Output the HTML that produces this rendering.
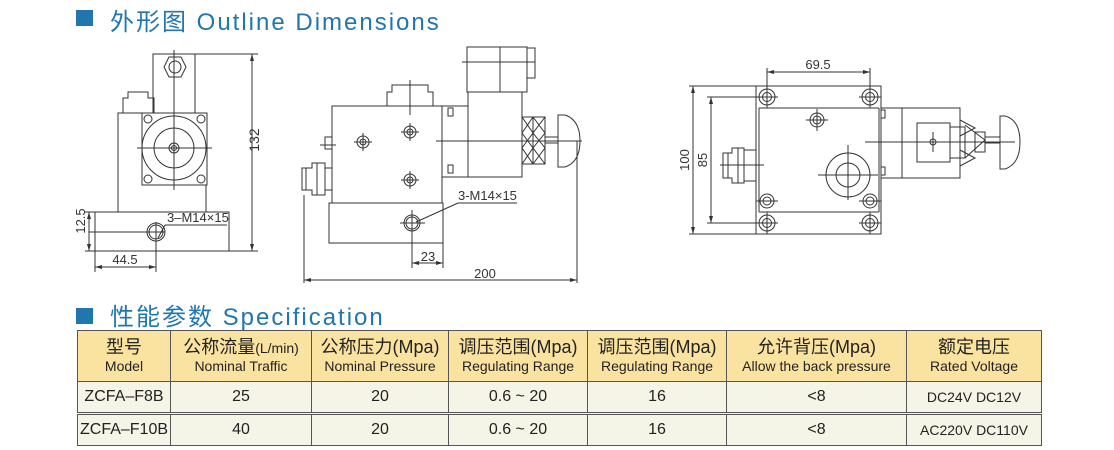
<!DOCTYPE html>
<html><head><meta charset="utf-8"><style>
body{margin:0;background:#fff;width:1114px;height:450px;overflow:hidden;position:relative;font-family:"Liberation Sans","Noto Sans CJK SC",sans-serif}
.h{position:absolute;color:#2176ae;font-size:24px;letter-spacing:2px;white-space:nowrap}
.sq{position:absolute;width:17px;height:16px;background:#2176ae}
table{position:absolute;left:77px;top:330px;border-collapse:collapse;font-size:14px;color:#222}
td{border:1px solid #555;text-align:center;padding:0;line-height:18px}
tr.hd td{background:#fae3a0;height:50px}
tr.r td{background:#f4f5e6;height:30px;font-size:16px}
.cn{font-size:18px}
</style></head><body>
<div class="sq" style="left:76px;top:10px"></div>
<div class="h" style="left:110px;top:2px">外形图 Outline Dimensions</div>
<div class="sq" style="left:76px;top:308px"></div>
<div class="h" style="left:110px;top:297px">性能参数 Specification</div>

<svg width="1114" height="300" style="position:absolute;left:0;top:0" font-family="Liberation Sans, sans-serif" font-size="13" fill="none" stroke="#333" stroke-width="1">
<!-- left view -->
<rect x="153" y="54" width="42" height="59"/>
<polygon points="164,67 169,57 181,57 186,67 181,77 169,77"/>
<circle cx="175" cy="67" r="6"/>
<path d="M123,113 V98 H128 V92 H148 V98 H154 V113"/>
<rect x="118" y="113" width="88" height="99"/>
<rect x="142" y="113" width="65" height="72" fill="#fff"/>
<circle cx="174" cy="148" r="32"/><circle cx="174" cy="148" r="20"/><circle cx="174" cy="148" r="5"/><circle cx="174" cy="148" r="2.5"/>
<circle cx="148" cy="119" r="4"/><circle cx="201" cy="119" r="4"/><circle cx="148" cy="179" r="4"/><circle cx="201" cy="179" r="4"/>
<path d="M137,148 H212 M174,50 V190"/>
<rect x="95" y="212" width="134" height="39"/>
<circle cx="156" cy="232" r="9"/><circle cx="156" cy="232" r="7"/>
<path d="M89,232 H165 M156,222 V272"/>
<path d="M195,54 H258 M229,251 H258 M252,54 V251 M85,212 H95 M85,251 H95 M89,212 V251 M95,251 V272 M95,267 H156"/>
<path d="M165,225 H227 M165,225 L158,238"/>
<!-- middle view -->
<path d="M387,106 V92 H392 V85 H428 V92 H433 V106"/>
<path d="M410,80 V115"/>
<rect x="332" y="106" width="110" height="97"/>
<rect x="329" y="203" width="114" height="40"/>
<circle cx="412" cy="223" r="8"/><circle cx="412" cy="223" r="6"/>
<path d="M400,223 H425 M412,210 V268 M443,243 V268 M412,263 H443"/>
<circle cx="363" cy="142" r="6"/><circle cx="363" cy="142" r="3"/><path d="M354,142 H372 M363,133 V151"/>
<circle cx="410" cy="132" r="6"/><circle cx="410" cy="132" r="3"/><path d="M401,132 H419 M410,123 V141"/>
<circle cx="410" cy="180" r="6"/><circle cx="410" cy="180" r="3"/><path d="M401,180 H419 M410,171 V189"/>
<rect x="442" y="106" width="26" height="71"/>
<rect x="448" y="108" width="5" height="8"/><rect x="448" y="165" width="5" height="8"/>
<rect x="468" y="92" width="54" height="85"/>
<rect x="467" y="47" width="60" height="45"/>
<path d="M500,47 V92 M462,62 H535"/>
<rect x="527" y="48" width="8" height="30"/>
<rect x="522" y="117" width="11" height="47"/><rect x="533" y="117" width="12" height="47"/>
<path d="M522,117 L533,133 L522,148 L533,164 M533,117 L522,133 L533,148 L522,164 M533,117 L545,133 L533,148 L545,164 M545,117 L533,133 L545,148 L533,164"/>
<rect x="545" y="137" width="13" height="6"/>
<path d="M558,115 H565 Q580,120 580,141 Q580,162 565,167 H558 Z"/>
<path d="M436,141 H582"/>
<rect x="325" y="137" width="7" height="12"/><path d="M320,145 H336"/>
<path d="M302,168 H312 V163 H325 V195 H312 V190 H302 Z M306,168 V190 M317,163 V195 M325,168 H332 V190 H325"/>
<path d="M304,195 V283 M577,141 V283 M304,280 H577"/>
<path d="M458,203 H517 M458,203 L416,222"/>
<!-- right view -->
<rect x="756" y="86" width="125" height="148"/>
<path d="M759,108 H879 M759,212 H879 M759,108 V212 M879,108 V212"/>
<g>
<circle cx="767" cy="97" r="8"/><circle cx="767" cy="97" r="4.5"/>
<circle cx="870" cy="97" r="8"/><circle cx="870" cy="97" r="4.5"/>
<circle cx="767" cy="223" r="8"/><circle cx="767" cy="223" r="4.5"/>
<circle cx="870" cy="223" r="8"/><circle cx="870" cy="223" r="4.5"/>
<circle cx="767" cy="201" r="7"/><circle cx="767" cy="201" r="4"/>
<circle cx="870" cy="201" r="7"/><circle cx="870" cy="201" r="4"/>
<circle cx="817" cy="120" r="7"/><circle cx="817" cy="120" r="4"/>
<path d="M756,97 H778 M859,97 H881 M767,86 V108 M870,86 V108 M756,223 H778 M859,223 H881 M767,212 V234 M870,212 V234 M806,120 H828 M817,109 V131 M756,201 H778 M859,201 H881"/>
</g>
<circle cx="848" cy="175" r="22"/><circle cx="848" cy="175" r="12"/>
<path d="M818,175 H878 M848,145 V200"/>
<rect x="881" y="108" width="21" height="70"/>
<rect x="881" y="110" width="4" height="8"/><rect x="881" y="167" width="4" height="8"/>
<rect x="902" y="108" width="58" height="70"/>
<rect x="917" y="123" width="33" height="39"/>
<rect x="950" y="127" width="15" height="31"/>
<path d="M960,120 L975,128 L960,136 M960,150 L975,158 L960,166 M965,125 L985,140 L965,158"/>
<rect x="975" y="132" width="10" height="20"/>
<rect x="985" y="137" width="15" height="6"/>
<path d="M1000,116 H1005 Q1020,120 1020,142 Q1020,164 1005,169 H1000 Z"/>
<circle cx="933" cy="142" r="3"/><path d="M865,142 H1015 M933,132 V152"/>
<path d="M723,153 H732 V148 H744 V183 H732 V178 H723 Z M728,153 V178 M738,148 V183 M744,150 H756 V181 H744"/>
<path d="M720,165 H764"/>
<path d="M689,86 H756 M689,234 H756 M693,86 V234 M707,97 H756 M707,223 H756 M711,97 V223"/>
<path d="M767,68 V86 M870,68 V86 M767,72 H870"/>
<g fill="#333" stroke="none">
<polygon points="252,54 250,61 254,61"/><polygon points="252,251 250,244 254,244"/>
<polygon points="89,212 87,219 91,219"/><polygon points="89,251 87,244 91,244"/>
<polygon points="95,267 102,265 102,269"/><polygon points="156,267 149,265 149,269"/>
<polygon points="304,280 311,278 311,282"/><polygon points="577,280 570,278 570,282"/>
<polygon points="412,263 419,261 419,265"/><polygon points="443,263 436,261 436,265"/>
<polygon points="693,86 691,93 695,93"/><polygon points="693,234 691,227 695,227"/>
<polygon points="711,97 709,104 713,104"/><polygon points="711,223 709,216 713,216"/>
<polygon points="767,72 774,70 774,74"/><polygon points="870,72 863,70 863,74"/>
<text x="259" y="140" transform="rotate(-90 259 140)" text-anchor="middle" font-size="14">132</text>
<text x="85" y="221" transform="rotate(-90 85 221)" text-anchor="middle">12.5</text>
<text x="125" y="264" text-anchor="middle">44.5</text>
<text x="167" y="222">3–M14×15</text>
<text x="458" y="200">3-M14×15</text>
<text x="428" y="261" text-anchor="middle">23</text>
<text x="485" y="278" text-anchor="middle">200</text>
<text x="689" y="160" transform="rotate(-90 689 160)" text-anchor="middle">100</text>
<text x="707" y="160" transform="rotate(-90 707 160)" text-anchor="middle">85</text>
<text x="818" y="69" text-anchor="middle">69.5</text>
</g>
</svg>

<table>
<tr class="hd">
<td style="width:92px"><span class="cn">型号</span><br>Model</td>
<td style="width:140px"><span class="cn">公称流量</span>(L/min)<br>Nominal Traffic</td>
<td style="width:136px"><span class="cn">公称压力(Mpa)</span><br>Nominal Pressure</td>
<td style="width:138px"><span class="cn">调压范围(Mpa)</span><br>Regulating Range</td>
<td style="width:138px"><span class="cn">调压范围(Mpa)</span><br>Regulating Range</td>
<td style="width:179px"><span class="cn">允许背压(Mpa)</span><br>Allow the back pressure</td>
<td style="width:134px"><span class="cn">额定电压</span><br>Rated Voltage</td>
</tr>
<tr class="r"><td>ZCFA–F8B</td><td>25</td><td>20</td><td>0.6 ~ 20</td><td>16</td><td>&lt;8</td><td style="font-size:14px">DC24V DC12V</td></tr>
<tr class="r" style="border-top:3px double #555"><td>ZCFA–F10B</td><td>40</td><td>20</td><td>0.6 ~ 20</td><td>16</td><td>&lt;8</td><td style="font-size:14px">AC220V DC110V</td></tr>
</table>
</body></html>
